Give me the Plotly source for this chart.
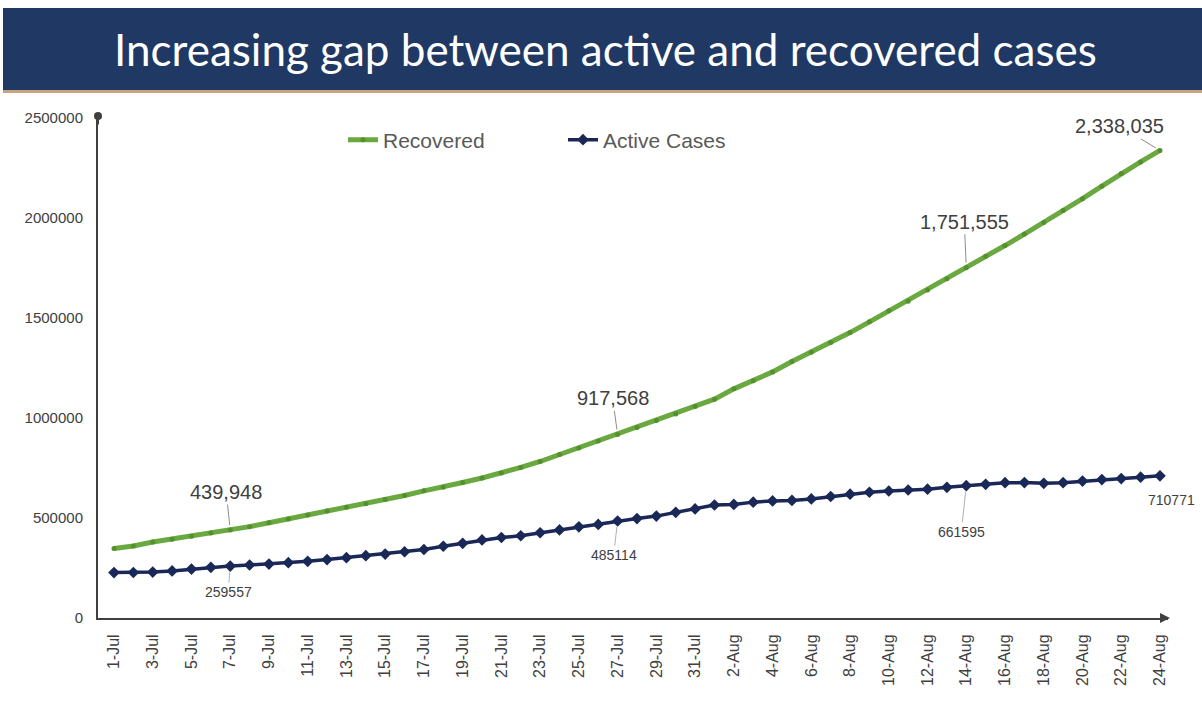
import plotly.graph_objects as go

# ---------------- data ----------------
dates = [f"{d}-Jul" for d in range(1, 32)] + [f"{d}-Aug" for d in range(1, 25)]

recovered = [
    347979, 359860, 379892, 394227, 409083, 424433, 439948, 456830, 476378, 495513,
    515386, 534621, 553471, 571460, 592032, 612815, 635757, 653751, 677423, 700087,
    724578, 753050, 782607, 817209, 849432, 885577, 917568, 952744, 988029, 1019735,
    1057806, 1094374, 1145629, 1186203, 1230509, 1282215, 1328336, 1378105, 1427005,
    1480884, 1535743, 1583489, 1639599, 1695982, 1751555, 1808936, 1862258, 1919842,
    1977779, 2037870, 2096664, 2158946, 2222577, 2280566, 2338035,
]

active = [
    226947, 227439, 229713, 235433, 244814, 253287, 259557, 264944, 269789, 276682,
    283407, 292258, 301609, 311565, 319840, 331146, 342473, 358692, 373379, 390459,
    402529, 411133, 426167, 440135, 456071, 467882, 485114, 496988, 509447, 528242,
    545318, 565103, 567730, 579357, 585587, 587829, 595501, 607384, 619088, 628747,
    634945, 639929, 643948, 653622, 661595, 668220, 676514, 676900, 673166, 676514,
    684507, 692028, 697330, 704348, 710771,
]

tick_labels = dates[::2]

rec_labels = {"7-Jul": "439,948", "27-Jul": "917,568", "14-Aug": "1,751,555", "24-Aug": "2,338,035"}
act_labels = {"7-Jul": "259557", "27-Jul": "485114", "14-Aug": "661595", "24-Aug": "710771"}

# ---------------- layout geometry ----------------
W, H = 1202, 704
L, R, T, B = 98, 34, 118, 86
PW, PH = W - L - R, H - T - B


def px_x(p):
    return (p - L) / PW


def px_y(p):
    return 1 - (p - T) / PH


GREEN = "#6aa840"
GREEN_M = "#55902f"
NAVY = "#1a2858"
TXT = "#404040"
TICK = "#595959"
FONT = "Liberation Sans"

fig = go.Figure()
fig.add_trace(go.Scatter(
    x=dates, y=recovered, name="Recovered", mode="lines+markers",
    line=dict(color=GREEN, width=5),
    marker=dict(symbol="circle", size=5, color=GREEN_M),
))
fig.add_trace(go.Scatter(
    x=dates, y=active, name="Active Cases", mode="lines+markers",
    line=dict(color=NAVY, width=3.5),
    marker=dict(symbol="diamond", size=9, color=NAVY),
))

annotations = []
rec_offsets = {"7-Jul": (-4, -38), "27-Jul": (-5, -36), "14-Aug": (-2, -46), "24-Aug": (-40, -24)}
act_offsets = {"7-Jul": (-2, 26), "27-Jul": (-4, 34), "14-Aug": (-5, 46), "24-Aug": (12, 24)}
for d, txt in rec_labels.items():
    ax, ay = rec_offsets[d]
    annotations.append(dict(
        x=d, y=recovered[dates.index(d)], xref="x", yref="y", text=txt,
        showarrow=True, ax=ax, ay=ay, arrowhead=0, arrowwidth=1, arrowcolor="#8c8c8c",
        standoff=5, font=dict(family=FONT, size=20, color=TXT),
    ))
for d, txt in act_labels.items():
    ax, ay = act_offsets[d]
    if d != "24-Aug":
        annotations.append(dict(
            x=d, y=active[dates.index(d)], xref="x", yref="y", text=txt,
            showarrow=True, ax=ax, ay=ay, arrowhead=0, arrowwidth=1, arrowcolor="#b0b0b0",
            standoff=6, font=dict(family=FONT, size=14, color=TXT),
        ))
    else:
        annotations.append(dict(
            x=d, y=active[dates.index(d)], xref="x", yref="y", text=txt,
            showarrow=False, xshift=ax, yshift=-ay, font=dict(family=FONT, size=14, color=TXT),
        ))

# title
annotations.append(dict(
    x=px_x(605), y=px_y(49), xref="paper", yref="paper", showarrow=False,
    text="Increasing gap between active and recovered cases",
    font=dict(family="Lato", size=44, color="white"), xanchor="center", yanchor="middle",
))
# axis arrows
annotations.append(dict(x=px_x(1170), y=0, xref="paper", yref="paper", ax=-10, ay=0,
                        showarrow=True, arrowhead=2, arrowsize=1, arrowwidth=2, arrowcolor=TXT, text=""))
annotations.append(dict(x=0, y=px_y(116), xref="paper", yref="paper", ax=0, ay=10,
                        showarrow=True, arrowhead=6, arrowsize=1, arrowwidth=2, arrowcolor=TXT, text=""))

shapes = [
    dict(type="rect", xref="paper", yref="paper", x0=px_x(3), x1=px_x(1202), y0=px_y(90), y1=px_y(8),
         fillcolor="#1f3864", line=dict(width=0), layer="below"),
    dict(type="rect", xref="paper", yref="paper", x0=px_x(3), x1=px_x(1202), y0=px_y(93), y1=px_y(90),
         fillcolor="#c9a27f", line=dict(width=0), layer="below"),
]

x_lo = -(114 - L) / 19.37
x_hi = (L + PW - 114) / 19.37

fig.update_layout(
    width=W, height=H,
    margin=dict(l=L, r=R, t=T, b=B, pad=0),
    paper_bgcolor="white", plot_bgcolor="white",
    showlegend=True,
    legend=dict(orientation="h", x=px_x(343), y=px_y(140), xanchor="left", yanchor="middle",
                font=dict(family=FONT, size=21, color=TICK), bgcolor="rgba(0,0,0,0)",
                entrywidth=175, entrywidthmode="pixels", itemwidth=30),
    annotations=annotations,
    shapes=shapes,
    xaxis=dict(
        type="category", range=[x_lo, x_hi], tickmode="array", tickvals=tick_labels, ticktext=tick_labels,
        tickangle=-90, tickfont=dict(family=FONT, size=16, color=TXT), showgrid=False,
        showline=True, linecolor=TXT, linewidth=2, ticks="", ticklabelstandoff=8, zeroline=False,
    ),
    yaxis=dict(
        range=[0, 2500000], tickvals=[0, 500000, 1000000, 1500000, 2000000, 2500000],
        ticktext=["0", "500000", "1000000", "1500000", "2000000", "2500000"],
        tickfont=dict(family=FONT, size=15, color=TXT), showgrid=False,
        showline=True, linecolor=TXT, linewidth=2, ticks="", ticklabelstandoff=10, zeroline=False,
    ),
)

fig.write_html("out.html", config={"displayModeBar": False},
               post_script="document.body.style.margin='0';")
